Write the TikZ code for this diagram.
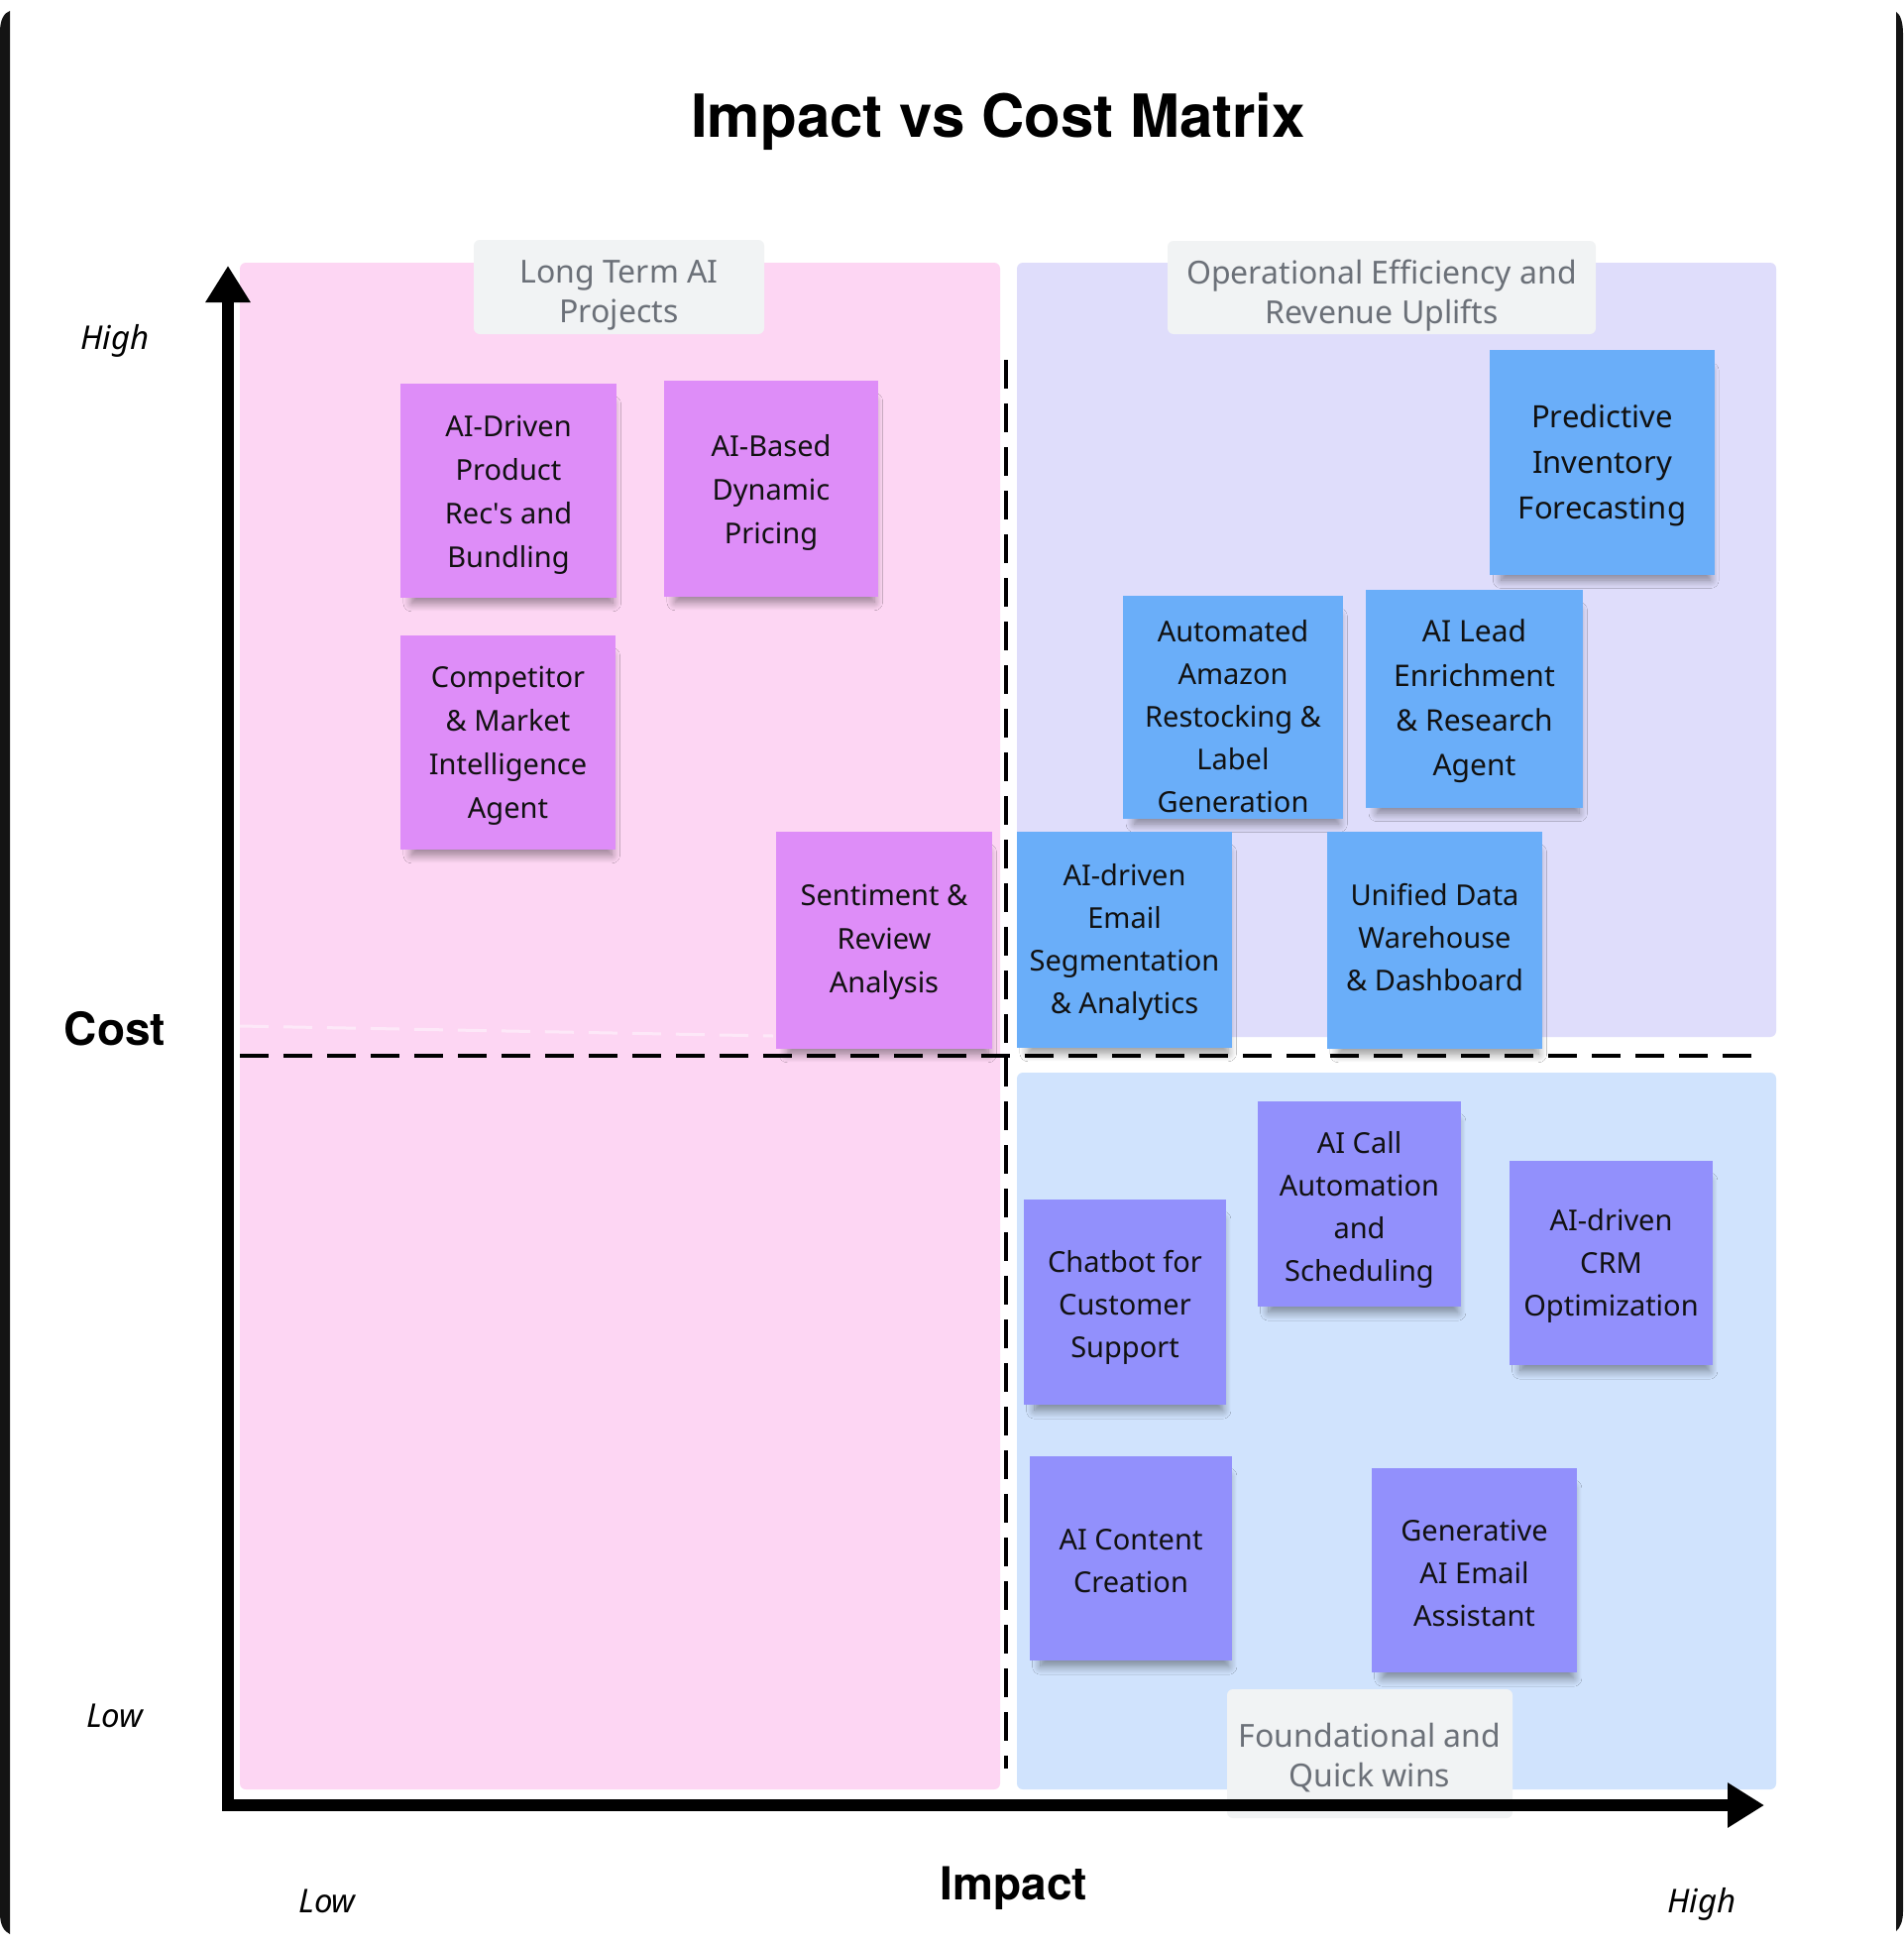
\documentclass[tikz,border=0pt]{standalone}
\usepackage{fontspec}
\setmainfont{Noto Sans}
\newfontfamily\heavyfont{TeX Gyre Heros}
\usetikzlibrary{arrows.meta,shadows.blur}
\definecolor{pinkbg}{HTML}{FDD6F3}
\definecolor{lavbg}{HTML}{DFDDFB}
\definecolor{bluebg}{HTML}{D0E3FD}
\definecolor{labelbg}{HTML}{F1F3F4}
\definecolor{labeltxt}{HTML}{6B7078}
\definecolor{magnote}{HTML}{DE8DF8}
\definecolor{bluenote}{HTML}{6AAEF9}
\definecolor{purnote}{HTML}{9290FC}
\definecolor{framecol}{HTML}{141414}
\definecolor{ink}{HTML}{111111}
\newcommand\notefont{\fontsize{29pt}{44pt}\selectfont}
\newcommand\bignotefont{\fontsize{31pt}{46pt}\selectfont}
\newcommand\labfont{\fontsize{32pt}{40pt}\selectfont}
\tikzset{
  note/.style={rectangle, inner sep=0pt,
    blur shadow={shadow xshift=4pt, shadow yshift=-14pt, shadow scale=0.93,
      shadow blur radius=9pt, shadow blur steps=12, shadow opacity=42}},
  notetext/.style={inner sep=0pt, align=center, text=ink, font=\notefont},
  magn/.style={note, fill=magnote},
  bluen/.style={note, fill=bluenote},
  purn/.style={note, fill=purnote},
  quadbox/.style={rectangle, rounded corners=6pt, fill=labelbg, inner sep=0pt},
  quadtext/.style={inner sep=0pt, align=center, text=labeltxt, font=\labfont},
  divider/.style={line width=3.5pt, dash pattern=on 29pt off 15pt, black},
  axislabel/.style={font=\fontsize{33pt}{40pt}\selectfont\itshape, anchor=base, text=black},
  axistitle/.style={font=\fontsize{46pt}{50pt}\heavyfont\bfseries, anchor=base, text=black},
  axisline/.style={line width=12pt, line join=miter,
    {Triangle[length=37pt,width=43pt]}-{Triangle[length=37pt,width=43pt]}}
}
\begin{document}
\begin{tikzpicture}[x=1pt,y=-1pt]
\useasboundingbox (0,0) rectangle (1920,1962);
\fill[white] (0,0) rectangle (1920,1962);
% frame edges
\fill[framecol] (10,11) -- (10,1951) .. controls (4,1948) and (0,1942) .. (0,1930) -- (0,32) .. controls (0,20) and (4,13) .. (10,11) -- cycle;
\fill[framecol] (1913,12) .. controls (1917,14) and (1920,22) .. (1920,34) -- (1920,1928) .. controls (1920,1938) and (1917,1945) .. (1913,1948) -- cycle;
% title
\node[font=\fontsize{60pt}{64pt}\heavyfont\bfseries, anchor=base, text=black] (title) at (1007,138) {Impact vs Cost Matrix};
% quadrant regions
\fill[pinkbg, rounded corners=6pt] (242,265) rectangle (1009,1805);
\fill[lavbg, rounded corners=6pt] (1026,265) rectangle (1792,1046);
\fill[bluebg, rounded corners=6pt] (1026,1082) rectangle (1792,1805);
\draw[line width=3pt, dash pattern=on 29pt off 15pt, white, opacity=0.45] (242,1035) -- (780,1045);
% dividers
\coordinate (hl) at (242,1065);
\coordinate (hr) at (1771,1065);
\coordinate (vt) at (1015,363);
\coordinate (vb) at (1015,1784);
\draw[divider] (hl) -- (hr);
\draw[divider] (vt) -- (vb);
% quadrant labels
\node[quadbox, minimum width=293pt, minimum height=95pt] (ltbox) at (624.5,289.5) {};
\node[quadtext] (lt) at ([yshift=-8pt]ltbox.center) {Long Term AI\\Projects};
\node[quadbox, minimum width=432pt, minimum height=94pt] (oebox) at (1394,290) {};
\node[quadtext] (oe) at ([yshift=-8.5pt]oebox.center) {Operational Efficiency and\\Revenue Uplifts};
\node[quadbox, minimum width=288pt, minimum height=130pt] (fqbox) at (1382,1769) {};
\node[quadtext] (fq) at ([yshift=-4pt]fqbox.center) {Foundational and\\Quick wins};
% axes
\coordinate (ytip) at (230,268);
\coordinate (origin) at (230,1821);
\coordinate (xtip) at (1780,1821);
\draw[axisline] (ytip) -- (origin) -- (xtip);
% axis labels
\node[axislabel] (yhigh) at (116,352) {High};
\node[axislabel] (ylow) at (116,1742) {Low};
\node[axistitle] (cost) at (116,1054) {Cost};
\node[axistitle] (impact) at (1023,1916) {Impact};
\node[axislabel] (xlow) at (330,1929) {Low};
\node[axislabel] (xhigh) at (1717,1929) {High};
% sticky notes: long term
\node[magn, minimum width=218pt, minimum height=216pt] (n1) at (513,495) {};
\node[notetext] (n1t) at ([yshift=-4.4pt]n1.center) {AI-Driven\\Product\\Rec\textquotesingle s and\\Bundling};
\node[magn, minimum width=216pt, minimum height=218pt] (n2) at (778,493) {};
\node[notetext] (n2t) at ([yshift=-3.8pt]n2.center) {AI-Based\\Dynamic\\Pricing};
\node[magn, minimum width=217pt, minimum height=216pt] (n3) at (512.5,749) {};
\node[notetext] (n3t) at ([yshift=-3.4pt]n3.center) {Competitor\\\& Market\\Intelligence\\Agent};
\node[magn, minimum width=218pt, minimum height=219pt] (n4) at (892,948.5) {};
\node[notetext] (n4t) at ([yshift=-1.3pt]n4.center) {Sentiment \&\\Review\\Analysis};
% operational efficiency
\node[bluen, minimum width=227pt, minimum height=227pt] (n5) at (1616.5,466.5) {};
\node[notetext, font=\bignotefont] (n5t) at ([yshift=-3.3pt]n5.center) {Predictive\\Inventory\\Forecasting};
\node[bluen, minimum width=222pt, minimum height=225pt] (n6) at (1244,713.5) {};
\node[notetext, font=\fontsize{29pt}{43pt}\selectfont] (n6t) at ([yshift=-8.8pt]n6.center) {Automated\\Amazon\\Restocking \&\\Label\\Generation};
\node[bluen, minimum width=219pt, minimum height=220pt] (n7) at (1487.5,705) {};
\node[notetext, font=\fontsize{30pt}{45pt}\selectfont] (n7t) at ([yshift=-2.5pt]n7.center) {AI Lead\\Enrichment\\\& Research\\Agent};
\node[bluen, minimum width=217pt, minimum height=218pt] (n8) at (1134.5,948) {};
\node[notetext, font=\fontsize{29pt}{43pt}\selectfont] (n8t) at ([yshift=-2.8pt]n8.center) {AI-driven\\Email\\Segmentation\\\& Analytics};
\node[bluen, minimum width=217pt, minimum height=219pt] (n9) at (1447.5,948.5) {};
\node[notetext, font=\fontsize{29pt}{43pt}\selectfont] (n9t) at ([yshift=2.5pt]n9.center) {Unified Data\\Warehouse\\\& Dashboard};
% foundational
\node[purn, minimum width=205pt, minimum height=207pt] (n10) at (1371.5,1214.5) {};
\node[notetext, font=\fontsize{29pt}{43pt}\selectfont] (n10t) at ([yshift=-5.9pt]n10.center) {AI Call\\Automation\\and\\Scheduling};
\node[purn, minimum width=204pt, minimum height=207pt] (n11) at (1135,1313.5) {};
\node[notetext, font=\fontsize{29pt}{43pt}\selectfont] (n11t) at ([yshift=-5pt]n11.center) {Chatbot for\\Customer\\Support};
\node[purn, minimum width=205pt, minimum height=206pt] (n12) at (1625.5,1274) {};
\node[notetext, font=\fontsize{29pt}{43pt}\selectfont] (n12t) at ([yshift=-3.3pt]n12.center) {AI-driven\\CRM\\Optimization};
\node[purn, minimum width=204pt, minimum height=206pt] (n13) at (1141,1572) {};
\node[notetext, font=\fontsize{29pt}{43pt}\selectfont] (n13t) at ([yshift=-3.1pt]n13.center) {AI Content\\Creation};
\node[purn, minimum width=207pt, minimum height=206pt] (n14) at (1487.5,1584) {};
\node[notetext, font=\fontsize{29pt}{43pt}\selectfont] (n14t) at ([yshift=-2.5pt]n14.center) {Generative\\AI Email\\Assistant};
\end{tikzpicture}
\end{document}
